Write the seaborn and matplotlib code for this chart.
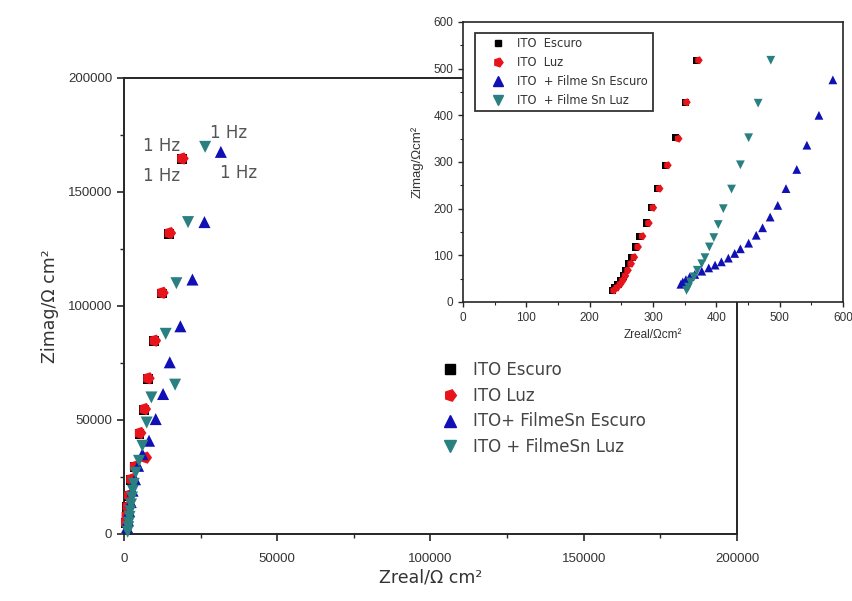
import matplotlib
matplotlib.use("Agg")
import matplotlib.pyplot as plt
import seaborn as sns
from matplotlib.lines import Line2D
from matplotlib.ticker import AutoMinorLocator, FixedLocator

# ---------------- data: main plot ----------------
series_names = ["ITO Escuro", "ITO Luz", "ITO+ FilmeSn Escuro", "ITO + FilmeSn Luz"]
inset_names = ["ITO  Escuro", "ITO  Luz", "ITO  + Filme Sn Escuro", "ITO  + Filme Sn Luz"]

ito_escuro_x = [18800, 14700, 12300, 9800, 7750, 6550, 5050, 3450, 2300, 1600, 1100, 800, 600]
ito_escuro_y = [164300, 131700, 105500, 84500, 68000, 54500, 44000, 29300, 23700, 16700, 11700, 7700, 4700]
ito_luz_x = [19050, 14930, 12520, 10030, 7950, 6760, 5230, 7080, 3600, 2400, 1700, 1200, 900, 700]
ito_luz_y = [164700, 132000, 105800, 84800, 68300, 54800, 44300, 33500, 29600, 24000, 17000, 12000, 8000, 5000]
sn_escuro_x = [31600, 26250, 22330, 18400, 14930, 12750, 10350, 8170, 6000, 4600, 3600, 2800, 2200, 1700, 1300, 1000]
sn_escuro_y = [167600, 136800, 111600, 91100, 75300, 61400, 50400, 40900, 35000, 29900, 24000, 19000, 14000, 10000, 6000, 3000]
sn_luz_x = [26470, 20900, 17100, 13600, 16670, 8930, 7400, 6000, 4900, 3800, 3200, 2900, 2600, 2300, 2000, 1800, 1600, 1400, 1200]
sn_luz_y = [169800, 136800, 110000, 87800, 65500, 59900, 48900, 38700, 32100, 26900, 22000, 19000, 16000, 13000, 10000, 7500, 5000, 3000, 1000]

# "1 Hz" annotations (data coordinates)
hz_labels = ["1 Hz", "1 Hz", "1 Hz", "1 Hz"]
hz_x = [12100, 12100, 34000, 37250]
hz_y = [170100, 156900, 175800, 158200]

# ---------------- data: inset ----------------
in_ito_escuro_x = [369, 351, 336, 320, 307, 298, 290, 279, 272, 267, 262, 257, 253, 249, 245, 240, 236]
in_ito_escuro_y = [518, 428, 353, 293, 243, 202, 169, 141, 118, 96, 82, 68, 56, 46, 38, 31, 25]
in_ito_luz_x = [372, 353, 340, 323, 310, 300, 293, 283, 276, 270, 265, 260, 256, 252, 248, 243, 238]
in_ito_luz_y = [518, 428, 350, 293, 243, 202, 169, 141, 118, 96, 82, 68, 56, 46, 38, 31, 25]
in_sn_escuro_x = [584, 562, 543, 527, 510, 497, 485, 473, 463, 451, 438, 429, 419, 408, 398, 388, 377, 366, 358, 352, 347, 344]
in_sn_escuro_y = [476, 400, 336, 284, 243, 207, 182, 159, 143, 126, 114, 104, 94, 86, 79, 73, 66, 59, 54, 48, 43, 38]
in_sn_luz_x = [486, 466, 451, 438, 424, 411, 403, 396, 389, 382, 377, 370, 365, 359, 356, 353]
in_sn_luz_y = [518, 426, 352, 294, 242, 200, 166, 138, 118, 95, 82, 68, 54, 43, 32, 25]

main_x_ticks = [0, 50000, 100000, 150000, 200000]
main_y_ticks = [0, 50000, 100000, 150000, 200000]
inset_ticks = [0, 100, 200, 300, 400, 500, 600]

colors = ["#000000", "#e8141c", "#1010b4", "#2a8080"]
pent_right = (5, 0, -90)
markers = ["s", pent_right, "^", "v"]

sns.set_style("ticks")
plt.rcParams["font.family"] = ["Liberation Sans", "DejaVu Sans"]
WIDE = ["DejaVu Sans"]

fig = plt.figure(figsize=(8.53, 6.01), dpi=100)
ax = fig.add_axes([124 / 853, 1 - 534 / 601, 613 / 853, 456 / 601])

main_sets = [(ito_escuro_x, ito_escuro_y), (ito_luz_x, ito_luz_y),
             (sn_escuro_x, sn_escuro_y), (sn_luz_x, sn_luz_y)]
main_sizes = [50, 85, 75, 75]
for (xs, ys), c, m, s in zip(main_sets, colors, markers, main_sizes):
    sns.scatterplot(x=xs, y=ys, ax=ax, color=c, marker=m, s=s, edgecolor="none",
                    clip_on=False, zorder=3)

for t, x, y in zip(hz_labels, hz_x, hz_y):
    ax.text(x, y, t, fontsize=12, family=WIDE, color="#555555", ha="center", va="center")

ax.set_xlim(0, 200000)
ax.set_ylim(0, 200000)
ax.xaxis.set_major_locator(FixedLocator(main_x_ticks))
ax.yaxis.set_major_locator(FixedLocator(main_y_ticks))
ax.xaxis.set_minor_locator(AutoMinorLocator(2))
ax.yaxis.set_minor_locator(AutoMinorLocator(2))
ax.ticklabel_format(style="plain")
ax.tick_params(which="major", direction="out", length=5, width=1.2, labelsize=9.5,
               labelcolor="#333333")
ax.tick_params(axis="x", which="major", pad=9)
ax.tick_params(which="minor", direction="out", length=3, width=1.0)
for sp in ax.spines.values():
    sp.set_linewidth(1.4)
    sp.set_visible(True)
ax.set_xlabel("Zreal/Ω cm²", fontsize=12.5, family=WIDE, color="#333333", labelpad=2)
ax.set_ylabel("Zimag/Ω cm²", fontsize=12.5, family=WIDE, color="#333333", labelpad=6)

handles = [Line2D([], [], linestyle="none", marker=m, color=c, markersize=8.5 if m != "s" else 6.5)
           for m, c in zip(markers, colors)]
leg = fig.legend(handles, series_names, loc="upper left", bbox_to_anchor=(425 / 853, 1 - 346 / 601),
                 frameon=False, prop={"family": "DejaVu Sans", "size": 12}, handlelength=1.2,
                 handletextpad=0.8, labelspacing=0.46, labelcolor="#444444")

# ---------------- inset ----------------
ins = fig.add_axes([463 / 853, 1 - 302 / 601, 380 / 853, 280 / 601])
ins.set_facecolor("white")
ins.set_zorder(5)
in_sets = [(in_ito_escuro_x, in_ito_escuro_y), (in_ito_luz_x, in_ito_luz_y),
           (in_sn_escuro_x, in_sn_escuro_y), (in_sn_luz_x, in_sn_luz_y)]
in_sizes = [28, 36, 40, 40]
for (xs, ys), c, m, s in zip(in_sets, colors, markers, in_sizes):
    sns.scatterplot(x=xs, y=ys, ax=ins, color=c, marker=m, s=s, edgecolor="none", zorder=3)
ins.set_xlim(0, 600)
ins.set_ylim(0, 600)
ins.xaxis.set_major_locator(FixedLocator(inset_ticks))
ins.yaxis.set_major_locator(FixedLocator(inset_ticks))
ins.xaxis.set_minor_locator(AutoMinorLocator(2))
ins.yaxis.set_minor_locator(AutoMinorLocator(2))
ins.tick_params(which="major", direction="out", length=3.5, width=1.0, labelsize=8.5,
                labelcolor="#333333")
ins.tick_params(which="minor", direction="out", length=2, width=0.8)
for sp in ins.spines.values():
    sp.set_linewidth(1.2)
    sp.set_visible(True)
ins.set_xlabel("Zreal/Ωcm²", fontsize=8.5, color="#333333", labelpad=4)
ins.set_ylabel("Zimag/Ωcm²", fontsize=9.5, color="#333333", labelpad=7)
in_handles = [Line2D([], [], linestyle="none", marker=m, color=c, markersize=6.5 if m != "s" else 4.5)
              for m, c in zip(markers, colors)]
ileg = ins.legend(in_handles, inset_names, loc="upper left", bbox_to_anchor=(0.025, 0.97),
                  prop={"family": "DejaVu Sans", "size": 8.3}, frameon=True, fancybox=False,
                  edgecolor="black", handlelength=3.2, handletextpad=0.1, labelspacing=0.5,
                  borderpad=0.4, borderaxespad=0.2, labelcolor="#333333")
ileg.get_frame().set_linewidth(1.3)

fig.savefig("out.png", dpi=100)
